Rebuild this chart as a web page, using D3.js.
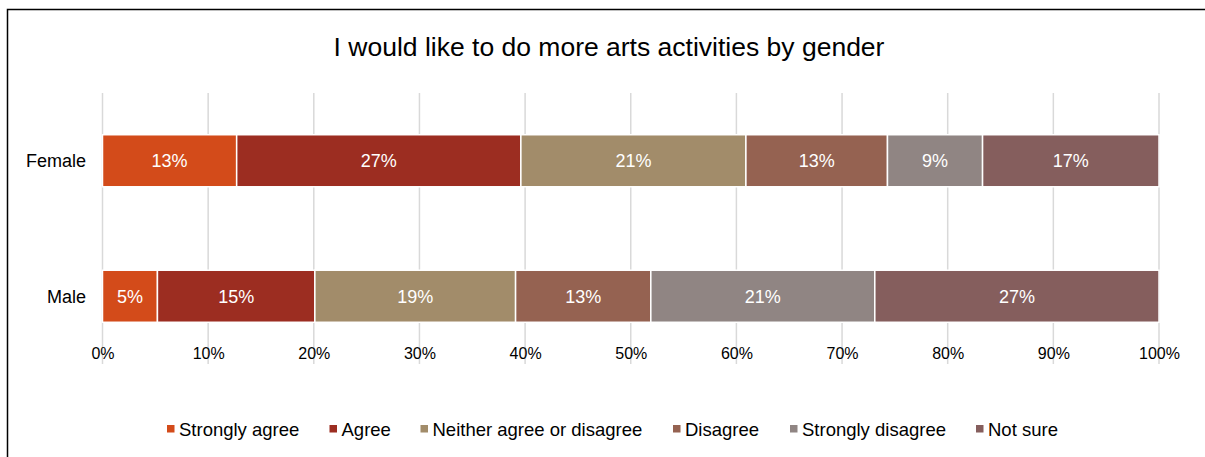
<!DOCTYPE html>
<html><head><meta charset="utf-8">
<script src="https://cdn.jsdelivr.net/npm/d3@7"></script>
<style>body{margin:0;background:#fff;}svg{display:block;font-family:"Liberation Sans",Arial,sans-serif;}</style>
</head><body>
<svg id="chart" width="1205" height="457"></svg>
<script>
const title = "I would like to do more arts activities by gender";
const categories = ["Female", "Male"];
const seriesNames = ["Strongly agree", "Agree", "Neither agree or disagree", "Disagree", "Strongly disagree", "Not sure"];
const seriesColors = ["#D34B1A", "#9C2D21", "#A28C6A", "#956251", "#908583", "#855E5D"];
const femaleValues = [12.7, 26.9, 21.3, 13.4, 9.0, 16.7];
const maleValues = [5.2, 14.9, 19.0, 12.8, 21.2, 26.9];
const femaleLabels = ["13%", "27%", "21%", "13%", "9%", "17%"];
const maleLabels = ["5%", "15%", "19%", "13%", "21%", "27%"];
const tickValues = [0, 10, 20, 30, 40, 50, 60, 70, 80, 90, 100];

const valuesByCat = {Female: femaleValues, Male: maleValues};
const labelsByCat = {Female: femaleLabels, Male: maleLabels};

const svg = d3.select("#chart");
svg.append("rect").attr("x", 7.5).attr("y", 9.5).attr("width", 1220).attr("height", 470)
  .attr("fill", "none").attr("stroke", "#000").attr("stroke-width", 1.5);

svg.append("text").attr("x", 609).attr("y", 55.5).attr("text-anchor", "middle")
  .attr("font-size", 26.5).attr("fill", "#000").text(title);

const x = d3.scaleLinear().domain([0, 100]).range([102.5, 1159]);
const y = d3.scaleBand().domain(categories).range([93, 364]).paddingInner(0.616).paddingOuter(0.308);

svg.append("g").selectAll("line").data(tickValues).join("line")
  .attr("x1", d => x(d)).attr("x2", d => x(d)).attr("y1", 93).attr("y2", 364)
  .attr("stroke", "#D9D9D9").attr("stroke-width", 1.5);

const rows = categories.map(c => {
  const o = {cat: c};
  seriesNames.forEach((s, i) => o[s] = valuesByCat[c][i]);
  return o;
});
const stack = d3.stack().keys(seriesNames)(rows);

const g = svg.append("g");
stack.forEach((layer, si) => {
  layer.forEach(d => {
    const cat = d.data.cat;
    g.append("rect")
      .attr("x", x(d[0])).attr("y", y(cat))
      .attr("width", x(d[1]) - x(d[0])).attr("height", y.bandwidth())
      .attr("fill", seriesColors[si]).attr("stroke", "#fff").attr("stroke-width", 1.5);
    g.append("text")
      .attr("x", (x(d[0]) + x(d[1])) / 2).attr("y", y(cat) + y.bandwidth() / 2 + 6.5)
      .attr("text-anchor", "middle").attr("font-size", 18).attr("fill", "#fff")
      .text(labelsByCat[cat][si]);
  });
});

svg.append("g").selectAll("text").data(categories).join("text")
  .attr("x", 86).attr("y", d => y(d) + y.bandwidth() / 2 + 6.5)
  .attr("text-anchor", "end").attr("font-size", 18).attr("fill", "#000").text(d => d);

const xAxis = d3.axisBottom(x).tickValues(tickValues).tickFormat(d => d + "%").tickSize(0).tickPadding(0);
const ax = svg.append("g").attr("transform", "translate(0,348)").call(xAxis);
ax.select(".domain").remove();
ax.selectAll("text").attr("font-size", 16).attr("fill", "#000").attr("font-family", "Liberation Sans, Arial, sans-serif");

const legendX = [167, 329.5, 420.5, 673, 790, 976];
const lg = svg.append("g");
seriesNames.forEach((s, i) => {
  const lx = legendX[i];
  lg.append("rect").attr("x", lx).attr("y", 425).attr("width", 7.5).attr("height", 7.5).attr("fill", seriesColors[i]);
  lg.append("text").attr("x", lx + 12).attr("y", 436).attr("font-size", 18.5).attr("fill", "#000").text(s);
});
</script>
</body></html>
